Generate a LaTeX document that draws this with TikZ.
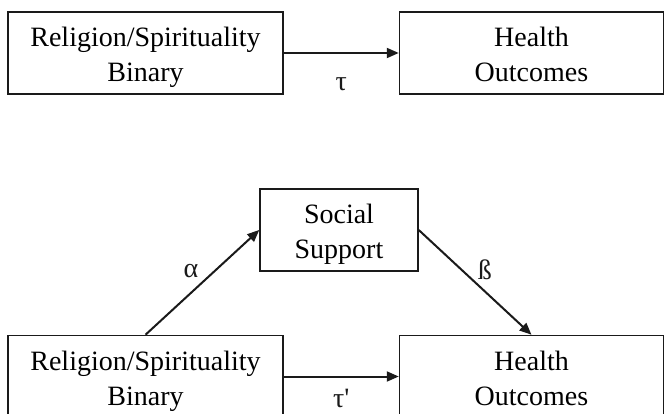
\documentclass[tikz,border=0pt]{standalone}
\usepackage{fontspec}
\setmainfont{Liberation Serif}
\usepackage{tikz}
\usetikzlibrary{arrows.meta,positioning}
\definecolor{tinta}{HTML}{1A1A1A}
\tikzset{
  caixa/.style={rectangle, draw=tinta, line width=1.5pt, minimum height=82pt,
    align=center, font=\fontsize{28}{35}\selectfont, inner sep=0pt},
  seta/.style={-{Triangle[length=12pt,width=10pt]}, draw=tinta, line width=2pt},
  rotulo/.style={font=\fontsize{28}{35}\selectfont, inner sep=1pt, text=tinta},
}
\newcommand{\duaslinhas}[2]{\rule{0pt}{29pt}#1\\#2\rule[-7pt]{0pt}{7pt}}

\begin{document}
\begin{tikzpicture}[x=1pt,y=-1pt]
    \useasboundingbox[fill=white] (0,0) rectangle (666,414);
    % efeito total
    \node[caixa, minimum width=275pt] (rs1) at (145.5,53) {\duaslinhas{Religion/Spirituality}{Binary}};
    \node[caixa, minimum width=264pt, right=115pt of rs1] (ho1) {\duaslinhas{Health}{Outcomes}};
    \draw[seta] (rs1) -- node[rotulo, below=23pt] (tau) {τ} (ho1);
    % mediação
    \node[caixa, minimum width=275pt] (rs2) at (145.5,376.5) {\duaslinhas{Religion/Spirituality}{Binary}};
    \node[caixa, minimum width=264pt, right=115pt of rs2] (ho2) {\duaslinhas{Health}{Outcomes}};
    \node[caixa, minimum width=158pt] (ss) at (339,230) {\duaslinhas{Social}{Support}};
    \draw[seta] (rs2) -- node[rotulo, below=12pt, inner sep=0pt, text depth=0pt] (taul) {τ\textquotesingle} (ho2);
    \draw[seta] (rs2.north) -- node[rotulo, above left=3pt] (alfa) {α} (ss.west);
    \draw[seta] (ss.east) -- node[rotulo, above right=1pt] (beta) {ß} (ho2.north);
\end{tikzpicture}
\end{document}
